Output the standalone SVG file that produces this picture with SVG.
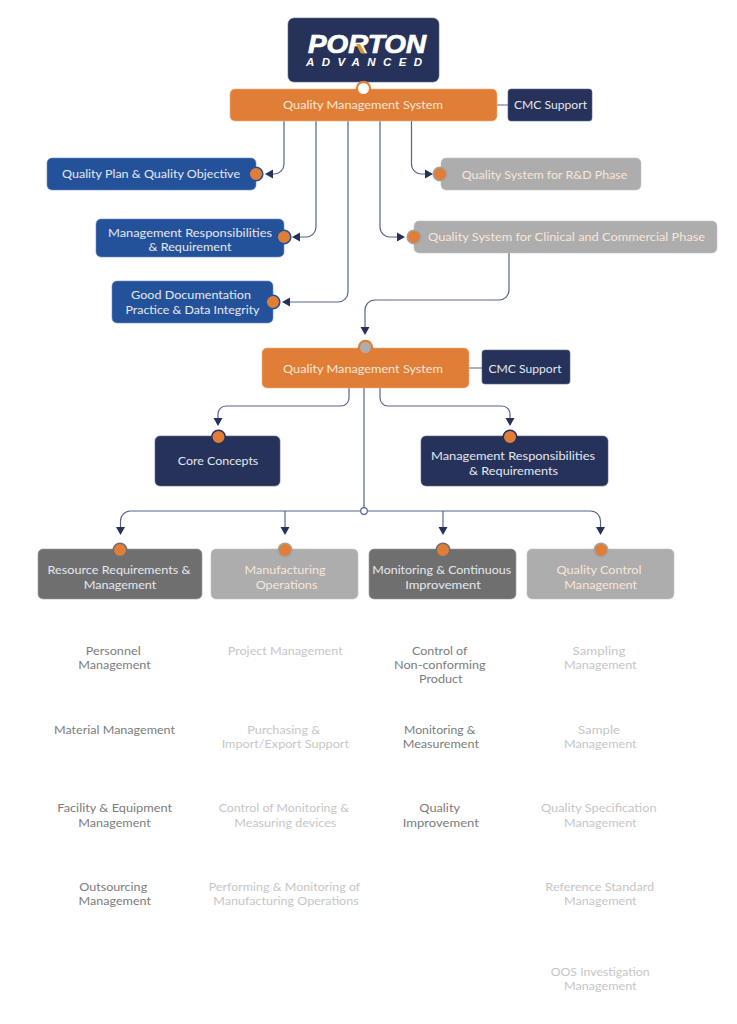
<svg xmlns="http://www.w3.org/2000/svg" width="737" height="1024" viewBox="0 0 737 1024">
<style>
text{font-family:"Lato","Noto Sans",sans-serif;font-size:12px;text-anchor:middle}
.w{fill:#e4e8f0}
.o{fill:#f8e6d8}
.d{fill:#7c7c7c}
.l{fill:#c6c6c6}
.navy{fill:#263259;stroke:#5a668c;stroke-width:.6}
.blue{fill:#24529a;stroke:#6d8fc4;stroke-width:.6}
.org{fill:#e07e37;stroke:#efb184;stroke-width:.6}
.gr{fill:#adadad;stroke:#c4c4c4;stroke-width:.6}
.dg{fill:#6f6f6f;stroke:#9a9a9a;stroke-width:.6}
.c{fill:none;stroke:#54648f;stroke-width:1.2}
.a{marker-end:url(#ah)}
.dot{fill:#e07e37;stroke-width:1.6}
</style>
<defs>
<marker id="ah" markerUnits="userSpaceOnUse" markerWidth="9" markerHeight="10" refX="0" refY="5" orient="auto"><path d="M0 .5L8 5L0 9.500Z" fill="#263259"/></marker>
</defs>
<rect width="737" height="1024" fill="#fff"/>
<g id="connectors">
<path class="c" d="M497 105H508M469 368H482"/>
<path class="c a" d="M284 121V164a10 10 0 0 1-10 10H273"/>
<path class="c a" d="M316 121V227a10 10 0 0 1-10 10H300"/>
<path class="c a" d="M348 121V292a10 10 0 0 1-10 10H290"/>
<path class="c a" d="M380 121V227a10 10 0 0 0 10 10H397"/>
<path class="c a" d="M411.500 121V164a10 10 0 0 0 10 10H425"/>
<path class="c a" d="M509 253V290a10 10 0 0 1-10 10H375a10 10 0 0 0-10 10V327"/>
<path class="c a" d="M349 388V398a8 8 0 0 1-8 8H226a8 8 0 0 0-8 8V418"/>
<path class="c a" d="M380 388V398a8 8 0 0 0 8 8H502a8 8 0 0 1 8 8V418"/>
<path class="c" d="M364 388V511"/>
<path class="c a" d="M364 511H130.500a10 10 0 0 0-10 10V527"/>
<path class="c a" d="M364 511H590.500a10 10 0 0 1 10 10V527"/>
<path class="c a" d="M285 511V527"/>
<path class="c a" d="M443 511V527"/>
<circle cx="364" cy="511" r="3.300" fill="#fff" stroke="#54648f" stroke-width="1.200"/>
</g>
<g id="logo">
<rect class="navy" x="288" y="18" width="151" height="64" rx="6"/>
<text x="367" y="53" fill="#fff" stroke="#fff" stroke-width=".7" font-weight="700" font-style="italic" textLength="118" lengthAdjust="spacingAndGlyphs" style="font-family:'Liberation Sans',sans-serif;font-size:25px">PORTON</text>
<path d="M356 44h4l5 9h-4.500z" fill="#e0962f"/>
<text x="364" y="65.700" fill="#fff" font-weight="700" font-style="italic" textLength="116" style="font-family:'Liberation Sans',sans-serif;font-size:11.500px">ADVANCED</text>
</g>
<g id="qms1">
<rect class="org" x="230" y="89" width="267" height="32" rx="5"/>
<circle cx="363.500" cy="88.500" r="6.600" fill="#fff" stroke="#e07e37" stroke-width="2.200"/>
<text class="o" x="363" y="109" textLength="160" lengthAdjust="spacingAndGlyphs">Quality Management System</text>
</g>
<g id="cmc1">
<rect class="navy" x="508" y="89" width="84" height="32" rx="3"/>
<text class="w" x="550.500" y="109" textLength="73" lengthAdjust="spacingAndGlyphs">CMC Support</text>
</g>
<g id="plan">
<rect class="blue" x="47" y="158" width="209" height="32" rx="5"/>
<circle class="dot" cx="256" cy="174" r="6.800" stroke="#24529a"/>
<text class="w" x="151" y="178" textLength="178" lengthAdjust="spacingAndGlyphs">Quality Plan &amp; Quality Objective</text>
</g>
<g id="resp">
<rect class="blue" x="96" y="219" width="188" height="38" rx="5"/>
<circle class="dot" cx="284" cy="237" r="6.800" stroke="#24529a"/>
<text class="w" x="190" y="237" textLength="164" lengthAdjust="spacingAndGlyphs">Management Responsibilities</text>
<text class="w" x="190" y="251.400" textLength="83" lengthAdjust="spacingAndGlyphs">&amp; Requirement</text>
</g>
<g id="gdp">
<rect class="blue" x="112" y="281" width="161" height="42" rx="5"/>
<circle class="dot" cx="273" cy="302" r="6.800" stroke="#24529a"/>
<text class="w" x="191" y="299" textLength="120" lengthAdjust="spacingAndGlyphs">Good Documentation</text>
<text class="w" x="192.500" y="313.500" textLength="134" lengthAdjust="spacingAndGlyphs">Practice &amp; Data Integrity</text>
</g>
<g id="rd">
<rect class="gr" x="441" y="158" width="200" height="32" rx="5"/>
<circle class="dot" cx="440" cy="174" r="6.800" stroke="#a3a3a3"/>
<text class="o" x="544.500" y="179" textLength="165.500" lengthAdjust="spacingAndGlyphs">Quality System for R&amp;D Phase</text>
</g>
<g id="clinical">
<rect class="gr" x="414" y="221" width="303" height="32" rx="5"/>
<circle class="dot" cx="414" cy="237" r="6.800" stroke="#a3a3a3"/>
<text class="o" x="566.500" y="241" textLength="277" lengthAdjust="spacingAndGlyphs">Quality System for Clinical and Commercial Phase</text>
</g>
<g id="qms2">
<rect class="org" x="262" y="348" width="207" height="40" rx="5"/>
<circle cx="365.500" cy="347.500" r="6.600" fill="#adadad" stroke="#e07e37" stroke-width="2.200"/>
<text class="o" x="363" y="372.500" textLength="160" lengthAdjust="spacingAndGlyphs">Quality Management System</text>
</g>
<g id="cmc2">
<rect class="navy" x="482" y="350" width="88" height="34" rx="3"/>
<text class="w" x="525" y="372.500" textLength="73" lengthAdjust="spacingAndGlyphs">CMC Support</text>
</g>
<g id="core">
<rect class="navy" x="155" y="436" width="125" height="50" rx="5"/>
<circle class="dot" cx="218.500" cy="437" r="6.800" stroke="#263259"/>
<text class="w" x="218" y="465" textLength="80.500" lengthAdjust="spacingAndGlyphs">Core Concepts</text>
</g>
<g id="mgmtreq">
<rect class="navy" x="421" y="436" width="187" height="50" rx="5"/>
<circle class="dot" cx="510" cy="437" r="6.800" stroke="#263259"/>
<text class="w" x="513" y="460" textLength="164" lengthAdjust="spacingAndGlyphs">Management Responsibilities</text>
<text class="w" x="513.500" y="474.500" textLength="89" lengthAdjust="spacingAndGlyphs">&amp; Requirements</text>
</g>
<g id="resource">
<rect class="dg" x="38" y="549" width="164" height="50" rx="5"/>
<circle class="dot" cx="120" cy="550" r="6.800" stroke="#6f6f6f"/>
<text class="w" x="119" y="574" textLength="143" lengthAdjust="spacingAndGlyphs">Resource Requirements &amp;</text>
<text class="w" x="120" y="588.500" textLength="72.700" lengthAdjust="spacingAndGlyphs">Management</text>
</g>
<g id="manufacturing">
<rect class="gr" x="211" y="549" width="147" height="50" rx="5"/>
<circle class="dot" cx="285" cy="550" r="6.800" stroke="#a3a3a3"/>
<text class="o" x="285" y="574" textLength="81" lengthAdjust="spacingAndGlyphs">Manufacturing</text>
<text class="o" x="286.500" y="588.500" textLength="61.700" lengthAdjust="spacingAndGlyphs">Operations</text>
</g>
<g id="monitoring">
<rect class="dg" x="369" y="549" width="147" height="50" rx="5"/>
<circle class="dot" cx="443" cy="550" r="6.800" stroke="#6f6f6f"/>
<text class="w" x="441.700" y="574" textLength="138.700" lengthAdjust="spacingAndGlyphs">Monitoring &amp; Continuous</text>
<text class="w" x="443" y="588.500" textLength="75.700" lengthAdjust="spacingAndGlyphs">Improvement</text>
</g>
<g id="qc">
<rect class="gr" x="527" y="549" width="147" height="50" rx="5"/>
<circle class="dot" cx="601" cy="550" r="6.800" stroke="#a3a3a3"/>
<text class="o" x="599" y="574" textLength="85" lengthAdjust="spacingAndGlyphs">Quality Control</text>
<text class="o" x="600.700" y="588.500" textLength="72.700" lengthAdjust="spacingAndGlyphs">Management</text>
</g>
<g id="list-resource">
<text class="d" x="113.200" y="654.500" textLength="55" lengthAdjust="spacingAndGlyphs">Personnel</text>
<text class="d" x="114.500" y="669" textLength="72.400" lengthAdjust="spacingAndGlyphs">Management</text>
<text class="d" x="114.500" y="733.500" textLength="121" lengthAdjust="spacingAndGlyphs">Material Management</text>
<text class="d" x="114.700" y="812.300" textLength="114.700" lengthAdjust="spacingAndGlyphs">Facility &amp; Equipment</text>
<text class="d" x="114.500" y="826.700" textLength="72.400" lengthAdjust="spacingAndGlyphs">Management</text>
<text class="d" x="113.200" y="891" textLength="68" lengthAdjust="spacingAndGlyphs">Outsourcing</text>
<text class="d" x="114.800" y="905.400" textLength="72.400" lengthAdjust="spacingAndGlyphs">Management</text>
</g>
<g id="list-manufacturing">
<text class="l" x="285.200" y="654.500" textLength="115" lengthAdjust="spacingAndGlyphs">Project Management</text>
<text class="l" x="283.800" y="733.500" textLength="73" lengthAdjust="spacingAndGlyphs">Purchasing &amp;</text>
<text class="l" x="285.300" y="748" textLength="127.300" lengthAdjust="spacingAndGlyphs">Import/Export Support</text>
<text class="l" x="283.800" y="812.300" textLength="130.300" lengthAdjust="spacingAndGlyphs">Control of Monitoring &amp;</text>
<text class="l" x="285.300" y="826.700" textLength="102" lengthAdjust="spacingAndGlyphs">Measuring devices</text>
<text class="l" x="284.500" y="891" textLength="151.400" lengthAdjust="spacingAndGlyphs">Performing &amp; Monitoring of</text>
<text class="l" x="286" y="905.400" textLength="145.300" lengthAdjust="spacingAndGlyphs">Manufacturing Operations</text>
</g>
<g id="list-monitoring">
<text class="d" x="439.700" y="654.500" textLength="55.300" lengthAdjust="spacingAndGlyphs">Control of</text>
<text class="d" x="439.800" y="669" textLength="91.700" lengthAdjust="spacingAndGlyphs">Non-conforming</text>
<text class="d" x="440.800" y="683.400" textLength="43.700" lengthAdjust="spacingAndGlyphs">Product</text>
<text class="d" x="439.700" y="733.500" textLength="71.300" lengthAdjust="spacingAndGlyphs">Monitoring &amp;</text>
<text class="d" x="440.800" y="748" textLength="76.300" lengthAdjust="spacingAndGlyphs">Measurement</text>
<text class="d" x="439.700" y="812.300" textLength="40.700" lengthAdjust="spacingAndGlyphs">Quality</text>
<text class="d" x="440.800" y="826.700" textLength="76.300" lengthAdjust="spacingAndGlyphs">Improvement</text>
</g>
<g id="list-qc">
<text class="l" x="599" y="654.500" textLength="53" lengthAdjust="spacingAndGlyphs">Sampling</text>
<text class="l" x="600.300" y="669" textLength="72.700" lengthAdjust="spacingAndGlyphs">Management</text>
<text class="l" x="599" y="733.500" textLength="42" lengthAdjust="spacingAndGlyphs">Sample</text>
<text class="l" x="600.300" y="748" textLength="72.700" lengthAdjust="spacingAndGlyphs">Management</text>
<text class="l" x="598.800" y="812.300" textLength="115.700" lengthAdjust="spacingAndGlyphs">Quality Specification</text>
<text class="l" x="600.300" y="826.700" textLength="72.700" lengthAdjust="spacingAndGlyphs">Management</text>
<text class="l" x="599.800" y="891" textLength="108.900" lengthAdjust="spacingAndGlyphs">Reference Standard</text>
<text class="l" x="600.300" y="905.400" textLength="72.700" lengthAdjust="spacingAndGlyphs">Management</text>
<text class="l" x="600.200" y="975.500" textLength="99" lengthAdjust="spacingAndGlyphs">OOS Investigation</text>
<text class="l" x="600.300" y="990" textLength="72.700" lengthAdjust="spacingAndGlyphs">Management</text>
</g>
</svg>
